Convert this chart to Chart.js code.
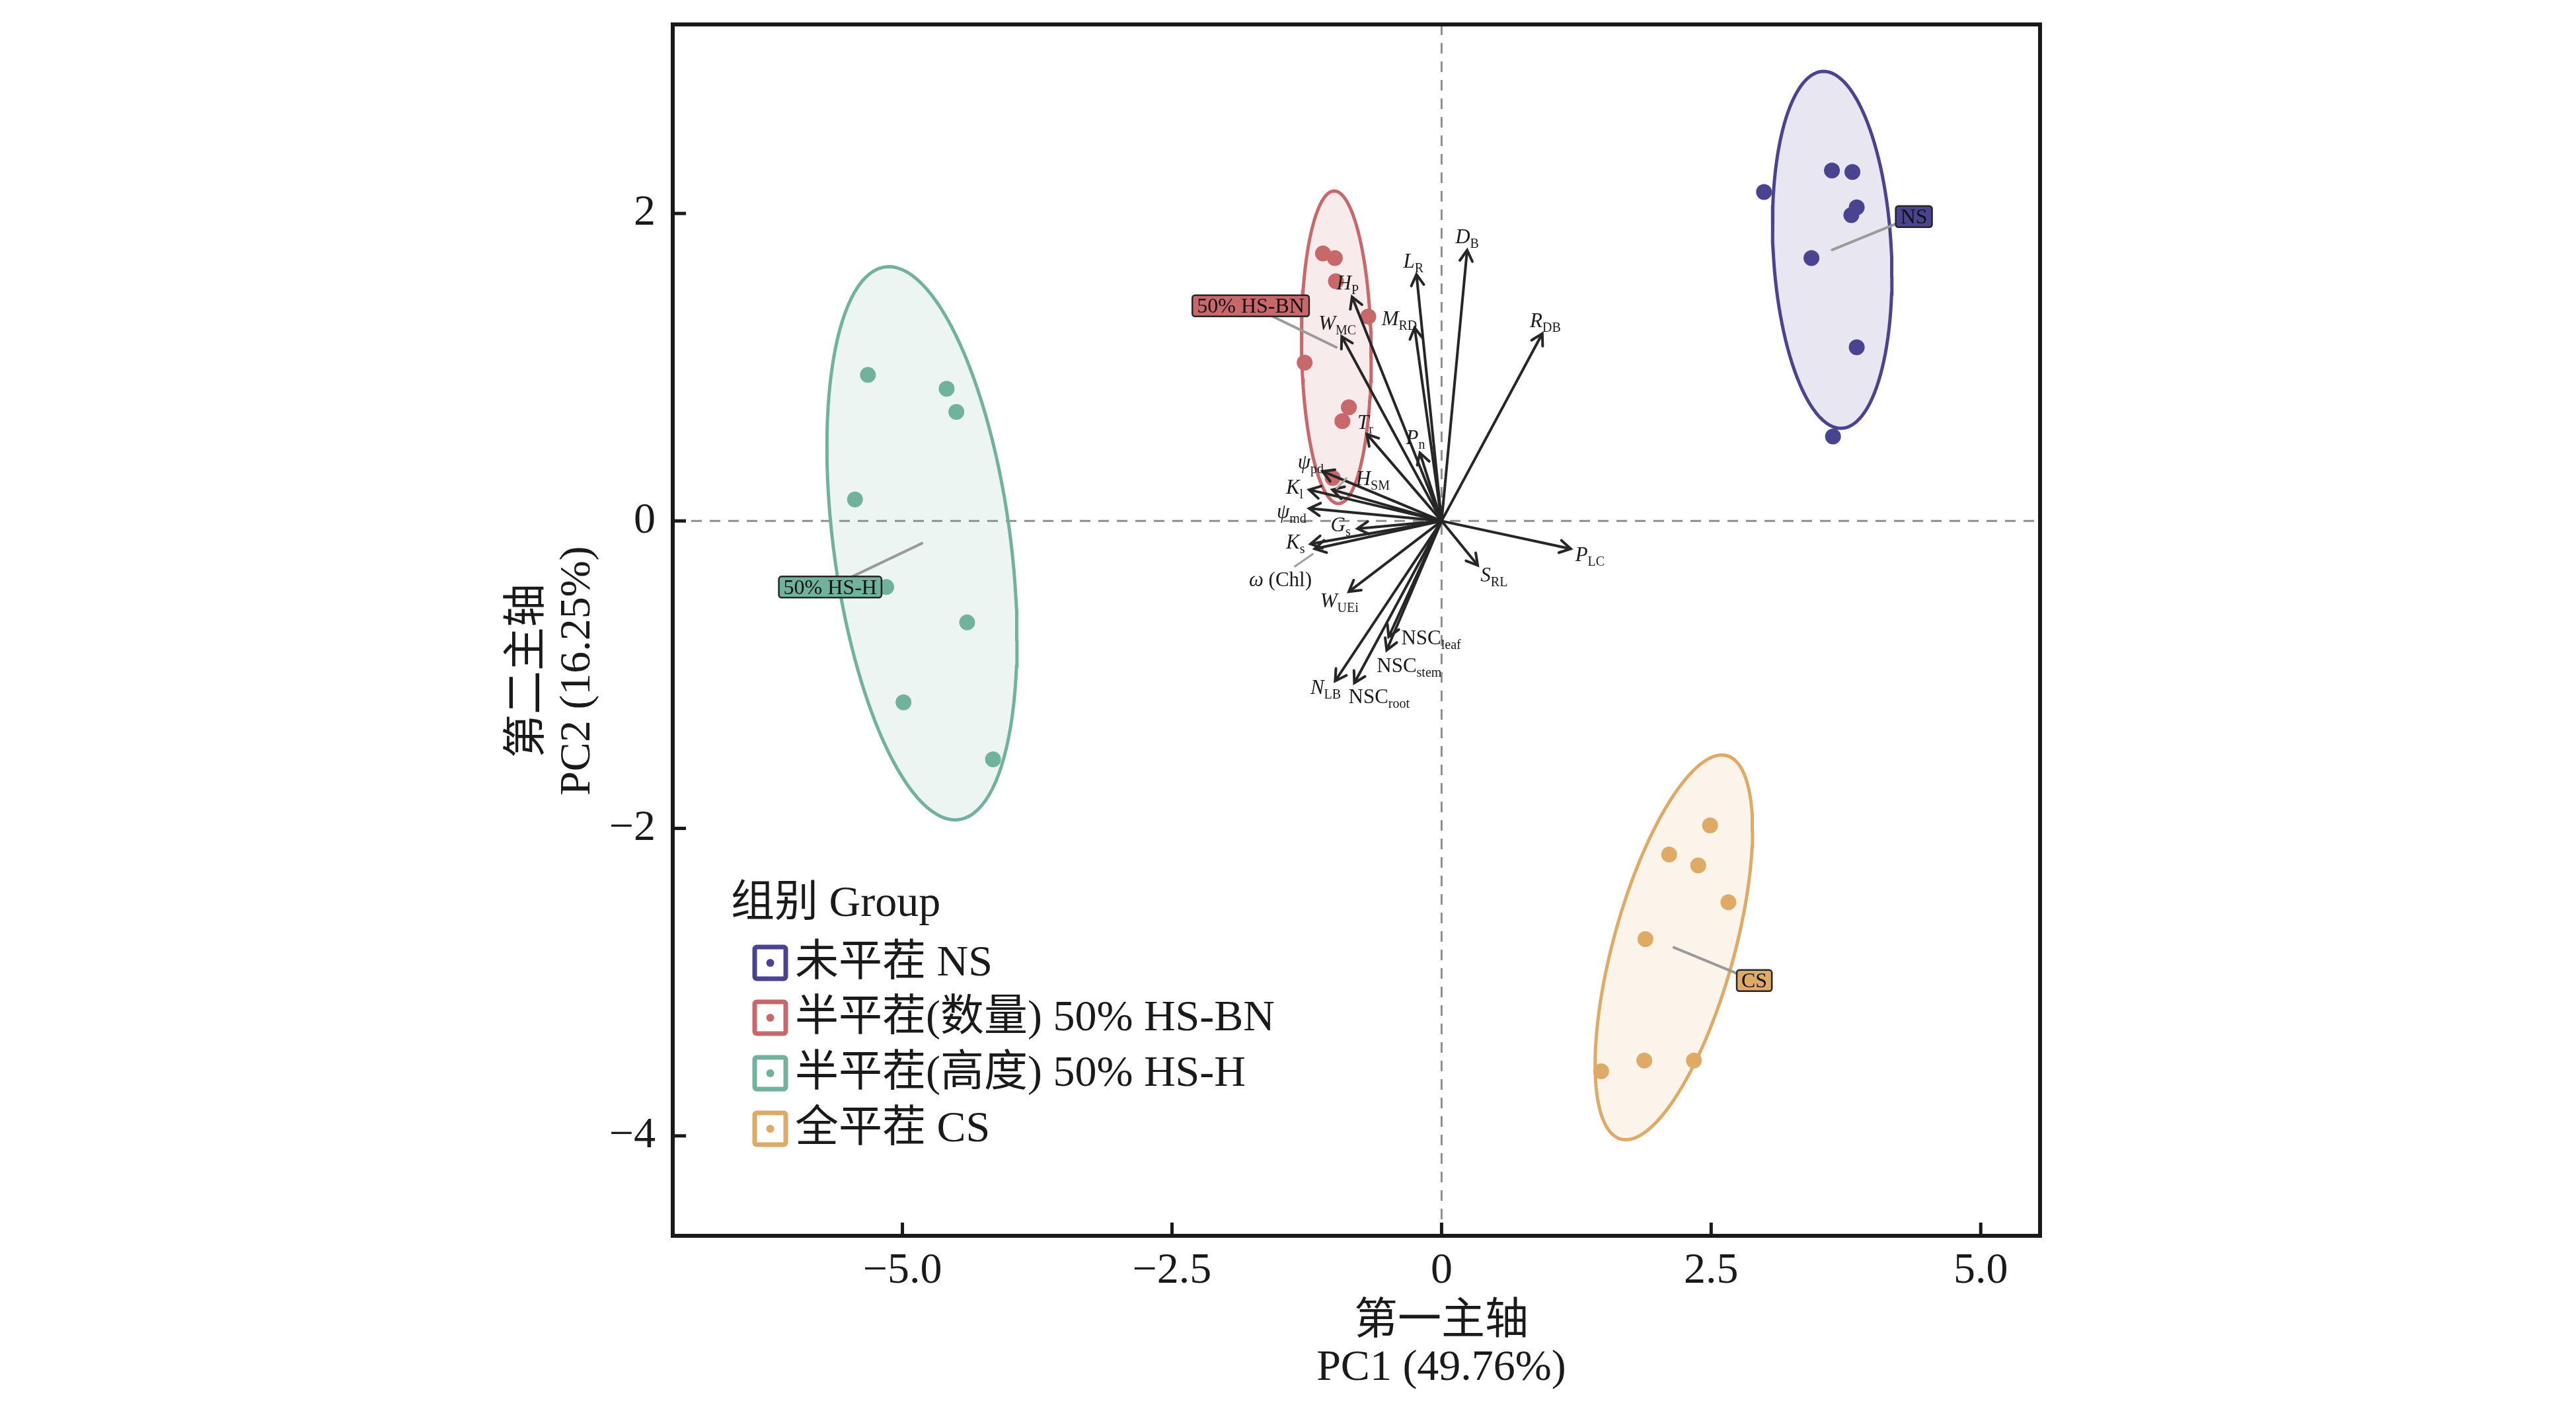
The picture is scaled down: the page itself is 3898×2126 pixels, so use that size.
<!DOCTYPE html>
<html>
<head>
<meta charset="utf-8">
<script src="https://cdn.jsdelivr.net/npm/chart.js@4.4.1/dist/chart.umd.min.js"></script>
<style>
  html, body { margin: 0; padding: 0; background: #fff; }
  #wrap { width: 3898px; height: 2126px; }
</style>
</head>
<body>
<div id="wrap"><canvas id="pca" width="3898" height="2126"></canvas></div>
<script>
// ---- data ----
const groupNames = ['NS', '50% HS-BN', '50% HS-H', 'CS'];
const legendLabels = ['未平茬 NS', '半平茬(数量) 50% HS-BN', '半平茬(高度) 50% HS-H', '全平茬 CS'];

const nsPC1 = [2.99, 3.62, 3.81, 3.85, 3.80, 3.43, 3.85, 3.63];
const nsPC2 = [2.14, 2.28, 2.27, 2.04, 1.99, 1.71, 1.13, 0.55];
const bnPC1 = [-1.10, -0.99, -0.98, -0.68, -1.27, -0.86, -0.92, -1.01];
const bnPC2 = [1.74, 1.71, 1.56, 1.33, 1.03, 0.74, 0.65, 0.28];
const hPC1 = [-5.32, -4.59, -4.50, -5.44, -5.15, -4.40, -4.99, -4.16];
const hPC2 = [0.95, 0.86, 0.71, 0.14, -0.43, -0.66, -1.18, -1.55];
const csPC1 = [2.49, 2.11, 2.38, 2.66, 1.89, 1.88, 2.34, 1.48];
const csPC2 = [-1.98, -2.17, -2.24, -2.48, -2.72, -3.51, -3.51, -3.58];

// where the repelled group labels sit (data units)
const groupLabelPC1 = [4.38, -1.77, -5.67, 2.90];
const groupLabelPC2 = [1.98, 1.40, -0.43, -2.99];

// variable loadings: [symbol, subscript, suffix]
const loadingLabels = [
  ['D', 'B'], ['L', 'R'], ['H', 'P'], ['M', 'RD'], ['R', 'DB'], ['W', 'MC'],
  ['T', 'r'], ['P', 'n'], ['ψ', 'pd'], ['H', 'SM'], ['K', 'l'], ['ψ', 'md'],
  ['G', 's'], ['K', 's'], ['ω', '', ' (Chl)'], ['W', 'UEi'], ['NSC', 'leaf'],
  ['NSC', 'stem'], ['N', 'LB'], ['NSC', 'root'], ['S', 'RL'], ['P', 'LC']
];
const loadPC1 = [0.237, -0.233, -0.830, -0.250, 0.934, -0.926, -0.693, -0.201, -1.104, -1.012, -1.228,
  -1.228, -0.780, -1.215, -1.177, -0.860, -0.491, -0.509, -0.987, -0.809, 0.335, 1.198];
const loadPC2 = [1.762, 1.604, 1.458, 1.257, 1.219, 1.200, 0.565, 0.443, 0.323, 0.203, 0.203,
  0.082, -0.050, -0.149, -0.181, -0.460, -0.754, -0.840, -1.041, -1.054, -0.288, -0.181];
const labelPC1 = [0.237, -0.261, -0.871, -0.392, 0.962, -0.967, -0.707, -0.242, -1.213, -0.638, -1.363,
  -1.391, -0.936, -1.355, -1.495, -0.948, -0.097, -0.301, -1.075, -0.580, 0.487, 1.376];
const labelPC2 = [1.848, 1.690, 1.547, 1.317, 1.303, 1.289, 0.644, 0.543, 0.386, 0.278, 0.220,
  0.063, -0.023, -0.138, -0.381, -0.517, -0.761, -0.940, -1.084, -1.141, -0.353, -0.216];
const leaderLabels = ['H_SM', 'ω_'];

const xTicks = [-5, -2.5, 0, 2.5, 5];
const yTicks = [-4, -2, 0, 2];

// ---- styling ----
const SERIF = "'Liberation Serif', 'Noto Sans CJK SC', serif";
const INK = '#1a1a1a';
const groupColors = ['#4A4490', '#C9686B', '#71B29C', '#DEAA66'];
const ELLIPSE_R = 1.88;

const groupX = [nsPC1, bnPC1, hPC1, csPC1];
const groupY = [nsPC2, bnPC2, hPC2, csPC2];

function toPoints(xs, ys) {
  return xs.map((x, i) => ({ x: x, y: ys[i] }));
}

function mean(arr) {
  return arr.reduce((a, b) => a + b, 0) / arr.length;
}

// covariance ellipse around a group
function ellipse(xs, ys, r) {
  const n = xs.length;
  const mx = mean(xs), my = mean(ys);
  let sxx = 0, syy = 0, sxy = 0;
  for (let i = 0; i < n; i++) {
    sxx += (xs[i] - mx) ** 2;
    syy += (ys[i] - my) ** 2;
    sxy += (xs[i] - mx) * (ys[i] - my);
  }
  sxx /= n - 1; syy /= n - 1; sxy /= n - 1;
  const a = Math.sqrt(sxx), b = sxy / a, c = Math.sqrt(syy - b * b);
  const pts = [];
  for (let k = 0; k <= 120; k++) {
    const t = 2 * Math.PI * k / 120;
    pts.push({ x: mx + r * a * Math.cos(t), y: my + r * (b * Math.cos(t) + c * Math.sin(t)) });
  }
  return pts;
}

function hexA(hex, a) {
  const v = parseInt(hex.slice(1), 16);
  return `rgba(${(v >> 16) & 255}, ${(v >> 8) & 255}, ${v & 255}, ${a})`;
}

function fmtTick(v, digits) {
  if (v === 0) return '0';
  const s = Math.abs(v).toFixed(digits);
  return v < 0 ? '\u2212' + s : s;
}

const datasets = [];
groupNames.forEach((g, i) => {
  datasets.push({
    type: 'line',
    label: g + ' ellipse',
    data: ellipse(groupX[i], groupY[i], ELLIPSE_R),
    borderColor: groupColors[i],
    backgroundColor: hexA(groupColors[i], 0.13),
    borderWidth: 5,
    pointRadius: 0,
    fill: 'shape',
    tension: 0,
    order: 30
  });
  datasets.push({
    type: 'scatter',
    label: g,
    data: toPoints(groupX[i], groupY[i]),
    backgroundColor: groupColors[i],
    borderWidth: 0,
    pointRadius: 12,
    order: 20
  });
});
loadingLabels.forEach((lab, i) => {
  datasets.push({
    type: 'line',
    label: lab.join(''),
    data: [{ x: 0, y: 0 }, { x: loadPC1[i], y: loadPC2[i] }],
    borderColor: '#262626',
    borderWidth: 4,
    pointRadius: 0,
    fill: false,
    order: 10
  });
});

function drawLoadingLabel(ctx, lab, cx, cy) {
  const parts = [];
  const upright = lab[0] === 'NSC';
  parts.push({ t: lab[0], f: (upright ? '' : 'italic ') + '31px ' + SERIF, dy: 0 });
  if (lab[1]) parts.push({ t: lab[1], f: '20px ' + SERIF, dy: 7 });
  if (lab[2]) parts.push({ t: lab[2], f: '31px ' + SERIF, dy: 0 });
  let w = 0;
  parts.forEach(p => { ctx.font = p.f; p.w = ctx.measureText(p.t).width; w += p.w; });
  let x = cx - w / 2;
  const base = cy + 10;
  ctx.textAlign = 'left';
  ctx.textBaseline = 'alphabetic';
  ctx.fillStyle = INK;
  parts.forEach(p => { ctx.font = p.f; ctx.fillText(p.t, x, base + p.dy); x += p.w; });
  return w;
}

function edgePoint(cx, cy, hw, hh, px, py) {
  const dx = px - cx, dy = py - cy;
  const t = Math.min(hw / Math.abs(dx || 1e-6), hh / Math.abs(dy || 1e-6));
  return [cx + dx * t, cy + dy * t];
}

const decor = {
  id: 'pcaDecor',
  beforeDatasetsDraw(chart) {
    const { ctx, chartArea: a, scales: { x, y } } = chart;
    ctx.save();
    ctx.strokeStyle = '#8f8f8f';
    ctx.lineWidth = 3;
    ctx.setLineDash([16, 12]);
    ctx.beginPath();
    ctx.moveTo(a.left, y.getPixelForValue(0));
    ctx.lineTo(a.right, y.getPixelForValue(0));
    ctx.moveTo(x.getPixelForValue(0), a.top);
    ctx.lineTo(x.getPixelForValue(0), a.bottom);
    ctx.stroke();
    ctx.restore();
  },
  afterDatasetsDraw(chart) {
    const { ctx, scales: { x, y } } = chart;
    const ox = x.getPixelForValue(0), oy = y.getPixelForValue(0);
    ctx.save();

    // arrowheads
    ctx.strokeStyle = '#262626';
    ctx.lineWidth = 4;
    ctx.lineCap = 'round';
    loadingLabels.forEach((lab, i) => {
      const tx = x.getPixelForValue(loadPC1[i]), ty = y.getPixelForValue(loadPC2[i]);
      const ang = Math.atan2(ty - oy, tx - ox);
      const len = 19, spread = Math.PI / 6;
      ctx.beginPath();
      ctx.moveTo(tx - len * Math.cos(ang - spread), ty - len * Math.sin(ang - spread));
      ctx.lineTo(tx, ty);
      ctx.lineTo(tx - len * Math.cos(ang + spread), ty - len * Math.sin(ang + spread));
      ctx.stroke();
    });

    // variable labels
    loadingLabels.forEach((lab, i) => {
      const lx = x.getPixelForValue(labelPC1[i]), ly = y.getPixelForValue(labelPC2[i]);
      const key = lab[0] + '_' + lab[1];
      if (leaderLabels.includes(key)) {
        const tx = x.getPixelForValue(loadPC1[i]), ty = y.getPixelForValue(loadPC2[i]);
        ctx.strokeStyle = '#a0a0a0';
        ctx.lineWidth = 3;
        ctx.beginPath();
        if (lab[0] === 'ω') {
          ctx.moveTo(tx - 3, ty + 8);
          ctx.lineTo(lx + 22, ly - 20);
        } else {
          ctx.moveTo(tx + 6, ty - 2);
          ctx.lineTo(lx - 40, ly);
        }
        ctx.stroke();
      }
      drawLoadingLabel(ctx, lab, lx, ly);
    });

    // group labels with leader lines from the centroid
    groupNames.forEach((g, i) => {
      const cx = x.getPixelForValue(mean(groupX[i])), cy = y.getPixelForValue(mean(groupY[i]));
      const bx = x.getPixelForValue(groupLabelPC1[i]), by = y.getPixelForValue(groupLabelPC2[i]);
      ctx.font = '32px ' + SERIF;
      const hw = ctx.measureText(g).width / 2 + 7, hh = 16;
      const [ex, ey] = edgePoint(bx, by, hw, hh, cx, cy);
      ctx.strokeStyle = '#9a9a9a';
      ctx.lineWidth = 4;
      ctx.beginPath();
      ctx.moveTo(cx, cy);
      ctx.lineTo(ex, ey);
      ctx.stroke();
      ctx.fillStyle = groupColors[i];
      ctx.strokeStyle = '#262626';
      ctx.lineWidth = 2.5;
      ctx.beginPath();
      ctx.roundRect(bx - hw, by - hh, hw * 2, hh * 2, 4);
      ctx.fill();
      ctx.stroke();
      ctx.fillStyle = '#111';
      ctx.textAlign = 'center';
      ctx.textBaseline = 'middle';
      ctx.fillText(g, bx, by + 2);
    });
    ctx.restore();
  },
  afterDraw(chart) {
    const { ctx, chartArea: a, scales: { x, y } } = chart;
    ctx.save();

    // frame and inward ticks
    ctx.strokeStyle = INK;
    ctx.lineWidth = 6;
    ctx.strokeRect(a.left, a.top, a.right - a.left, a.bottom - a.top);
    ctx.lineWidth = 5;
    ctx.beginPath();
    xTicks.forEach(v => {
      const p = x.getPixelForValue(v);
      ctx.moveTo(p, a.bottom);
      ctx.lineTo(p, a.bottom - 20);
    });
    yTicks.forEach(v => {
      const p = y.getPixelForValue(v);
      ctx.moveTo(a.left, p);
      ctx.lineTo(a.left + 20, p);
    });
    ctx.stroke();

    // legend
    ctx.fillStyle = INK;
    ctx.textAlign = 'left';
    ctx.textBaseline = 'alphabetic';
    ctx.font = '66px ' + SERIF;
    ctx.fillText('组别 Group', 1106, 1386);
    const rowY = [1457, 1540, 1624, 1708];
    legendLabels.forEach((txt, i) => {
      const cy = rowY[i];
      ctx.strokeStyle = groupColors[i];
      ctx.lineWidth = 7;
      ctx.beginPath();
      ctx.roundRect(1142, cy - 24, 47, 48, 3);
      ctx.stroke();
      ctx.fillStyle = groupColors[i];
      ctx.beginPath();
      ctx.arc(1165.5, cy, 6, 0, Math.PI * 2);
      ctx.fill();
      ctx.fillStyle = INK;
      ctx.font = '66px ' + SERIF;
      ctx.textBaseline = 'middle';
      ctx.fillText(txt, 1203, cy + 2);
    });

    // axis titles
    ctx.textAlign = 'center';
    ctx.textBaseline = 'middle';
    ctx.font = '66px ' + SERIF;
    ctx.fillText('第一主轴', 2181, 2001);
    ctx.fillText('PC1 (49.76%)', 2181, 2071);
    ctx.translate(0, 1015);
    ctx.rotate(-Math.PI / 2);
    ctx.fillText('第二主轴', 0, 800);
    ctx.fillText('PC2 (16.25%)', 0, 875);
    ctx.restore();
  }
};

new Chart(document.getElementById('pca'), {
  type: 'scatter',
  data: { datasets: datasets },
  options: {
    responsive: false,
    devicePixelRatio: 1,
    animation: false,
    events: [],
    layout: { padding: { top: 37, right: 811, left: 0, bottom: 0 } },
    plugins: { legend: { display: false }, tooltip: { enabled: false } },
    scales: {
      x: {
        type: 'linear',
        min: -7.13,
        max: 5.55,
        afterFit(scale) {
          scale.height = 256;
          scale.paddingLeft = 0;
          scale.paddingRight = 0;
        },
        afterBuildTicks(scale) { scale.ticks = xTicks.map(v => ({ value: v })); },
        grid: { display: false, drawTicks: false },
        border: { display: false },
        ticks: {
          autoSkip: false,
          maxRotation: 0,
          padding: 14,
          color: INK,
          font: { family: SERIF, size: 66 },
          callback: v => fmtTick(v, 1)
        }
      },
      y: {
        type: 'linear',
        min: -4.65,
        max: 3.23,
        afterFit(scale) {
          scale.width = 1018;
          scale.paddingTop = 0;
          scale.paddingBottom = 0;
        },
        afterBuildTicks(scale) { scale.ticks = yTicks.map(v => ({ value: v })); },
        grid: { display: false, drawTicks: false },
        border: { display: false },
        ticks: {
          autoSkip: false,
          padding: 26,
          color: INK,
          font: { family: SERIF, size: 66 },
          callback: v => fmtTick(v, 0)
        }
      }
    }
  },
  plugins: [decor]
});
</script>
</body>
</html>
